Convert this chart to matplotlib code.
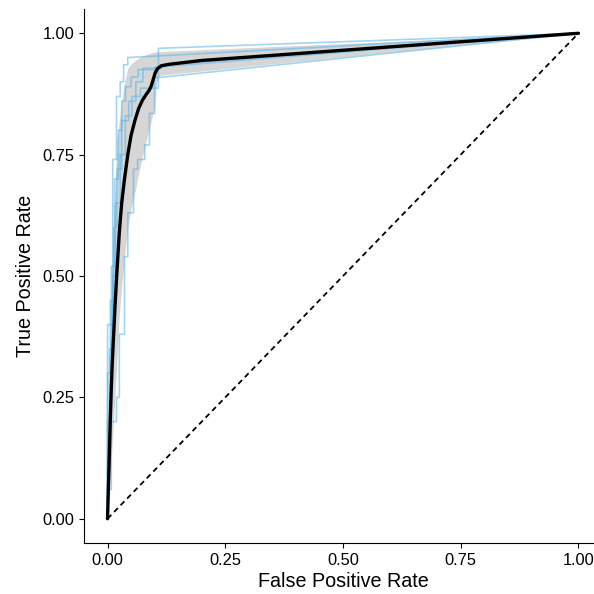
import matplotlib
matplotlib.use("Agg")
import matplotlib.pyplot as plt

plt.rcParams["font.family"] = ["Liberation Sans", "DejaVu Sans"]

# Per-fold ROC curves (step functions)
fold1_fpr = [0, 0, 0.011, 0.011, 0.019, 0.019, 0.027, 0.027, 0.034, 0.034, 0.043, 0.043, 1.0]
fold1_tpr = [0, 0.40, 0.40, 0.74, 0.74, 0.87, 0.87, 0.90, 0.90, 0.935, 0.935, 0.95, 1.0]

fold2_fpr = [0, 0, 0.008, 0.008, 0.015, 0.015, 0.023, 0.023, 0.030, 0.030, 0.038, 0.038,
             0.050, 0.050, 0.065, 0.065, 0.100, 0.100, 1.0]
fold2_tpr = [0, 0.20, 0.20, 0.52, 0.52, 0.70, 0.70, 0.80, 0.80, 0.86, 0.86, 0.89,
             0.89, 0.91, 0.91, 0.925, 0.925, 0.930, 1.0]

fold3_fpr = [0, 0, 0.008, 0.008, 0.019, 0.019, 0.025, 0.025, 0.036, 0.036, 0.043, 0.043,
             0.055, 0.055, 0.064, 0.064, 0.079, 0.079, 0.089, 0.089, 0.100, 0.100, 0.110, 1.0]
fold3_tpr = [0, 0.06, 0.06, 0.20, 0.20, 0.25, 0.25, 0.38, 0.38, 0.54, 0.54, 0.63,
             0.63, 0.72, 0.72, 0.74, 0.74, 0.77, 0.77, 0.835, 0.835, 0.909, 0.909, 1.0]

fold4_fpr = [0, 0, 0.006, 0.006, 0.013, 0.013, 0.020, 0.020, 0.030, 0.030, 0.045, 0.045,
             0.060, 0.060, 0.075, 0.075, 0.115, 0.115, 1.0]
fold4_tpr = [0, 0.30, 0.30, 0.45, 0.45, 0.60, 0.60, 0.72, 0.72, 0.82, 0.82, 0.86,
             0.86, 0.90, 0.90, 0.928, 0.928, 0.935, 1.0]

fold5_fpr = [0, 0, 0.004, 0.004, 0.011, 0.011, 0.017, 0.017, 0.027, 0.027, 0.038, 0.038,
             0.052, 0.052, 0.070, 0.070, 0.108, 0.108, 1.0]
fold5_tpr = [0, 0.10, 0.10, 0.35, 0.35, 0.50, 0.50, 0.65, 0.65, 0.75, 0.75, 0.83,
             0.83, 0.87, 0.87, 0.887, 0.887, 0.969, 1.0]

folds = [(fold1_fpr, fold1_tpr), (fold2_fpr, fold2_tpr), (fold3_fpr, fold3_tpr),
         (fold4_fpr, fold4_tpr), (fold5_fpr, fold5_tpr)]

# Averaged ROC curve
mean_fpr = [0, 0.002, 0.004, 0.006, 0.008, 0.010, 0.013, 0.016, 0.020, 0.025, 0.030,
            0.036, 0.043, 0.050, 0.058, 0.066, 0.074, 0.082, 0.088, 0.093, 0.097,
            0.101, 0.106, 0.114, 0.130, 0.200, 1.0]
mean_tpr = [0, 0.07, 0.14, 0.21, 0.27, 0.32, 0.38, 0.44, 0.51, 0.59, 0.65,
            0.70, 0.75, 0.79, 0.82, 0.845, 0.862, 0.874, 0.882, 0.892, 0.905,
            0.918, 0.927, 0.933, 0.936, 0.944, 1.0]

# Confidence band around the averaged curve
band_fpr = [0, 0.005, 0.010, 0.015, 0.020, 0.025, 0.030, 0.036, 0.043, 0.050, 0.060,
            0.068, 0.080, 0.093, 0.100, 0.104, 0.110, 0.125, 1.0]
band_hi = [0.05, 0.35, 0.53, 0.66, 0.78, 0.82, 0.86, 0.90, 0.928, 0.937, 0.945,
           0.950, 0.955, 0.960, 0.961, 0.962, 0.962, 0.963, 1.0]
band_lo = [0, 0.08, 0.16, 0.24, 0.33, 0.42, 0.48, 0.54, 0.60, 0.64, 0.68,
           0.72, 0.77, 0.82, 0.85, 0.897, 0.913, 0.915, 1.0]

fig = plt.figure(figsize=(5.94, 5.94), dpi=100)
ax = fig.add_axes([84 / 594, 51 / 594, 518 / 594, 534 / 594])

ax.fill_between(band_fpr, band_lo, band_hi, color="#d6d6d6", lw=0, zorder=1)
for fpr, tpr in folds:
    ax.plot(fpr, tpr, color="#56B4E9", alpha=0.55, lw=1.2, zorder=2)
ax.plot(mean_fpr, mean_tpr, color="black", lw=2.4, zorder=3,
        solid_capstyle="round", solid_joinstyle="round")
ax.plot([0, 1], [0, 1], color="black", lw=1.3, ls=(0, (3, 2.2)), zorder=4)

ticks = [0.0, 0.25, 0.5, 0.75, 1.0]
tick_labels = ["0.00", "0.25", "0.50", "0.75", "1.00"]
ax.set_xlim(-0.05, 1.05)
ax.set_ylim(-0.05, 1.05)
ax.set_xticks(ticks, tick_labels)
ax.set_yticks(ticks, tick_labels)
ax.tick_params(axis="both", length=3.6, width=0.8, color="black",
               labelsize=11.8, labelcolor="black", pad=3.6)
for side in ("top", "right"):
    ax.spines[side].set_visible(False)
for side in ("left", "bottom"):
    ax.spines[side].set_linewidth(0.8)
    ax.spines[side].set_color("black")

ax.set_xlabel("False Positive Rate", fontsize=14.2, labelpad=3)
ax.set_ylabel("True Positive Rate", fontsize=14.2, labelpad=5)

fig.savefig("out.png", dpi=100)
